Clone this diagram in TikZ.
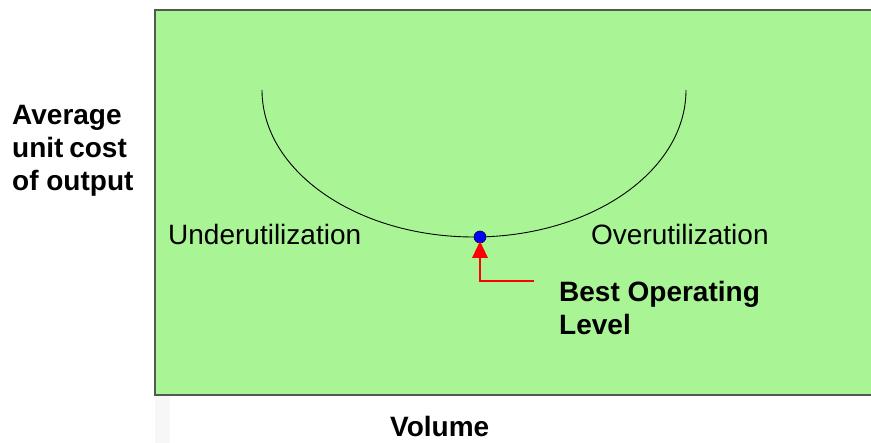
\documentclass[tikz,border=0pt]{standalone}
\usepackage{fontspec}
\setmainfont{Liberation Sans}
\definecolor{panel}{RGB}{169,245,150}
\definecolor{rim}{RGB}{80,90,80}
\tikzset{
  lbl/.style={font=\fontsize{28}{33}\selectfont, inner sep=0pt, anchor=base west, text=black},
  blbl/.style={lbl, font=\fontsize{28}{33}\selectfont\bfseries},
  costcurve/.style={draw=black, line width=0.9pt},
  pointer/.style={draw=red, line width=1.4pt},
  pointerhead/.style={fill=red}
}
\begin{document}
\begin{tikzpicture}[x=1pt,y=-1pt]
  \useasboundingbox (0,0) rectangle (871,443);
  % chart panel
  \fill[panel] (155,10) rectangle (873,395);
  \draw[rim, line width=2pt] (873,10) -- (155,10) -- (155,395) -- (873,395);
  \fill[black!5!white, opacity=0.6] (155,396) rectangle (170,443);
  % U-shaped average cost curve
  \draw[costcurve] (262,90) arc[start angle=180, end angle=0, x radius=212, y radius=147];
  % optimum point and its pointer
  \node[circle, fill=blue, draw=black!70!blue, line width=0.6pt, minimum size=12pt, inner sep=0pt] (opt) at (480,237) {};
  \coordinate (tip) at ([yshift=2pt]opt.south);
  \coordinate (headbase) at (480,258);
  \coordinate (elbow) at (480,281);
  \coordinate (tail) at (534,281);
  \draw[pointer] (tail) -- (elbow) -- (headbase);
  \fill[pointerhead] (tip) -- ([xshift=-8pt]headbase) -- ([xshift=8pt]headbase) -- cycle;
  % labels
  \node[blbl, align=left, anchor=north west] (ylab) at (12,105) {Average\\unit\hspace{-2pt} cost\\of output};
  \node[lbl] (under) at (168,245) {Underutilization};
  \node[lbl] (over) at (591,245) {Overutilization};
  \node[blbl] (best) at (559,302) {Best Operating};
  \node[blbl] (level) at (559,335) {Level};
  \node[blbl] (xlab) at (390,437) {Volume};
\end{tikzpicture}
\end{document}
